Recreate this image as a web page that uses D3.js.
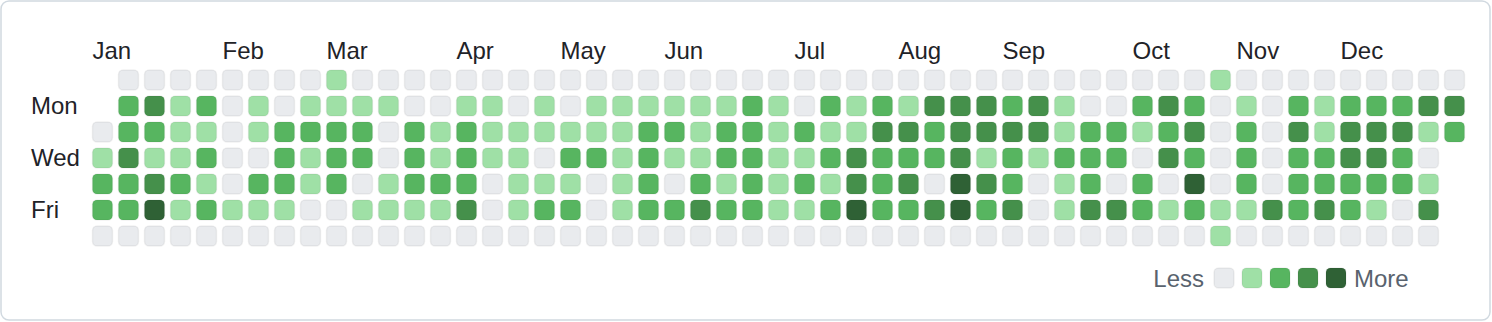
<!DOCTYPE html>
<html>
<head>
<meta charset="utf-8">
<script src="https://cdn.jsdelivr.net/npm/d3@7"></script>
<style>
  html, body { margin: 0; padding: 0; background: #fff; }
  svg { display: block; }
  text { font-family: "Liberation Sans", Arial, sans-serif; }
</style>
</head>
<body>
<svg id="chart" width="1492" height="322"></svg>
<script>
// contribution levels per weekday row, one entry per week column (null = no day)
const sun = [null,0,0,0,0,0,0,0,0,1,0, 0,0,0,0,0,0,0,0,0,0,0,0,0,0, 0,0,0,0,0,0,0,0,0,0,0,0,0, 0,0,0,0,0,1,0,0,0,0,0,0,0,0,0];
const mon = [null,2,3,1,2,0,1,0,1,1,1, 1,0,0,1,1,0,1,0,1,1,1,1,1,1, 2,1,0,2,1,2,1,3,3,3,2,3,1, 0,0,2,3,2,0,1,0,2,1,2,2,2,3,3];
const tue = [0,2,2,1,1,0,1,2,2,2,2, 0,2,1,2,1,1,1,1,1,1,2,2,1,2, 2,1,2,1,1,3,3,2,3,3,3,3,1, 2,2,1,2,3,0,2,0,3,1,3,3,3,1,2];
const wed = [1,3,1,1,2,0,0,2,1,2,2, 0,2,1,2,1,1,0,2,2,1,2,1,1,2, 2,1,1,2,3,2,2,2,3,1,2,1,2, 2,2,0,3,2,0,2,0,2,2,3,3,2,0,null];
const thu = [2,2,3,2,1,0,2,2,1,2,0, 1,2,2,2,0,1,1,1,0,1,2,0,2,1, 2,1,2,1,3,2,3,0,4,3,2,0,1, 2,0,2,0,4,0,2,0,2,2,2,2,2,1,null];
const fri = [2,2,4,1,2,1,1,1,0,0,1, 1,1,1,3,0,1,2,2,0,1,2,2,3,2, 2,1,1,2,4,2,2,3,4,2,3,0,1, 3,3,2,1,2,1,1,3,2,3,2,1,0,3,null];
const sat = [0,0,0,0,0,0,0,0,0,0,0, 0,0,0,0,0,0,0,0,0,0,0,0,0,0, 0,0,0,0,0,0,0,0,0,0,0,0,0, 0,0,0,0,0,1,0,0,0,0,0,0,0,0,null];

const months = ['Jan','Feb','Mar','Apr','May','Jun','Jul','Aug','Sep','Oct','Nov','Dec'];
const monthCols = [0,5,9,14,18,22,27,31,35,40,44,48];
const dayLabels = [{name: 'Mon', row: 1}, {name: 'Wed', row: 3}, {name: 'Fri', row: 5}];
const legendLevels = [0,1,2,3,4];

const levelColors = ['#e9ebee', '#9fe0a6', '#57b560', '#45904b', '#2f6135'];

const rows = [sun, mon, tue, wed, thu, fri, sat];
const cell = 20;

const svg = d3.select('#chart');

svg.append('rect')
  .attr('x', 1).attr('y', 1)
  .attr('width', 1489).attr('height', 319)
  .attr('rx', 8)
  .style('fill', '#fff')
  .style('stroke', '#d1d9e0')
  .style('stroke-width', 1.5);

let x = d3.scaleLinear()
  .domain([0, 52])
  .range([92.5, 92.5 + 52 * 26]);

let y = d3.scaleLinear()
  .domain([0, 6])
  .range([70, 70 + 6 * 26]);

let cells = [];
rows.forEach((r, ri) => {
  r.forEach((v, ci) => {
    if (v !== null) cells.push({row: ri, col: ci, level: v});
  });
});

svg.append('g').selectAll('rect')
  .data(cells).enter()
  .append('rect')
  .attr('x', d => x(d.col))
  .attr('y', d => y(d.row))
  .attr('width', cell)
  .attr('height', cell)
  .attr('rx', 4.5)
  .style('fill', d => levelColors[d.level])
  .style('stroke', 'rgba(31,35,40,0.06)')
  .style('stroke-width', 1.5);

// month labels
svg.append('g').selectAll('text')
  .data(months).enter()
  .append('text')
  .attr('x', (d, i) => x(monthCols[i]))
  .attr('y', 59)
  .style('font-size', '24px')
  .style('fill', '#1f2328')
  .text(d => d);

// weekday labels
svg.append('g').selectAll('text')
  .data(dayLabels).enter()
  .append('text')
  .attr('x', 31)
  .attr('y', d => y(d.row) + cell / 2 + 7.5)
  .style('font-size', '24px')
  .style('fill', '#1f2328')
  .text(d => d.name);

// legend
let legend = svg.append('g');
let lx = d3.scaleLinear().domain([0, 4]).range([1214, 1214 + 4 * 28]);

legend.selectAll('rect')
  .data(legendLevels).enter()
  .append('rect')
  .attr('x', d => lx(d))
  .attr('y', 268)
  .attr('width', cell)
  .attr('height', cell)
  .attr('rx', 4.5)
  .style('fill', d => levelColors[d])
  .style('stroke', 'rgba(31,35,40,0.06)')
  .style('stroke-width', 1.5);

legend.append('text')
  .attr('x', 1204)
  .attr('y', 287)
  .style('text-anchor', 'end')
  .style('font-size', '24px')
  .style('fill', '#59636e')
  .text('Less');

legend.append('text')
  .attr('x', 1354)
  .attr('y', 287)
  .style('font-size', '24px')
  .style('fill', '#59636e')
  .text('More');
</script>
</body>
</html>
